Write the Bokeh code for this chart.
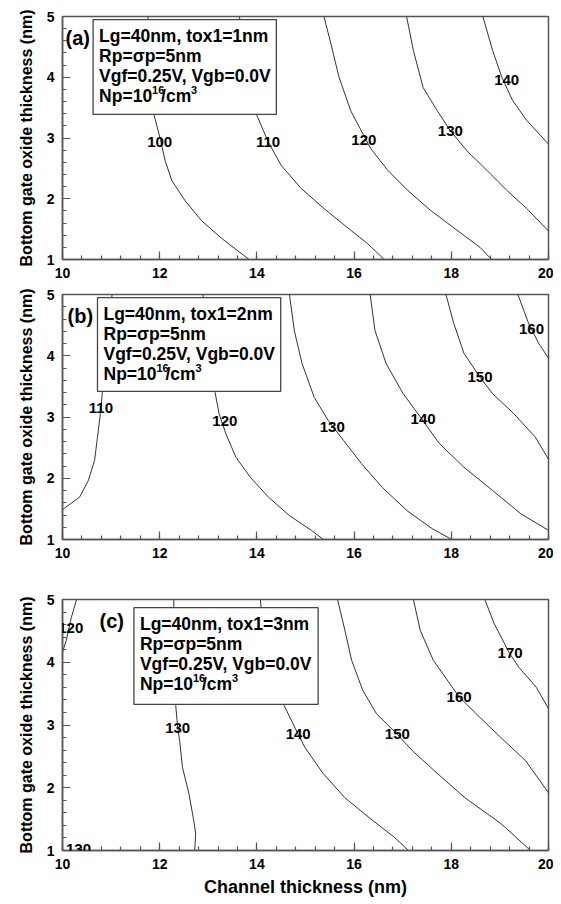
from bokeh.plotting import figure
from bokeh.models import Range1d, Label, LabelSet, ColumnDataSource, BoxAnnotation, SingleIntervalTicker
from bokeh.core.properties import value
from bokeh.layouts import column
from bokeh.embed import file_html
from bokeh.resources import INLINE

# ---------------- data ----------------
# Panel (a): tox1 = 1 nm
A100_x = [11.76, 11.80, 11.85, 11.88, 12.02, 12.11, 12.25, 12.52, 12.86, 13.27, 13.84]
A100_y = [5.0, 4.5, 3.9, 3.39, 2.96, 2.63, 2.30, 1.97, 1.64, 1.35, 1.0]
A110_x = [13.64, 13.75, 13.87, 13.99, 14.23, 14.50, 14.91, 15.38, 15.87, 16.28, 16.62]
A110_y = [5.0, 4.5, 3.9, 3.39, 2.94, 2.55, 2.17, 1.84, 1.52, 1.26, 1.0]
A120_x = [15.38, 15.52, 15.69, 15.93, 16.18, 16.34, 16.69, 17.10, 17.57, 18.12, 18.59, 18.83]
A120_y = [5.0, 4.56, 4.00, 3.45, 3.07, 2.83, 2.47, 2.14, 1.81, 1.48, 1.20, 1.0]
A130_x = [17.08, 17.22, 17.42, 17.71, 17.98, 18.32, 18.73, 19.14, 19.55, 20.0]
A130_y = [5.0, 4.44, 3.83, 3.45, 3.12, 2.79, 2.47, 2.14, 1.84, 1.47]
A140_x = [18.65, 18.85, 19.04, 19.26, 19.55, 20.0]
A140_y = [5.0, 4.44, 4.00, 3.62, 3.29, 2.9]
A_levels = [100, 110, 120, 130, 140]
A_label_x = [12.0, 14.23, 16.2, 17.98, 19.14]
A_label_y = [2.94, 2.94, 2.96, 3.11, 3.96]

# Panel (b): tox1 = 2 nm
B110_x = [10.0, 10.35, 10.53, 10.66, 10.72, 10.78, 10.82, 10.92, 11.02]
B110_y = [1.49, 1.69, 1.96, 2.29, 2.67, 3.06, 3.40, 4.2, 5.0]
B120_x = [12.89, 12.98, 13.07, 13.14, 13.22, 13.36, 13.57, 13.87, 14.24, 14.67, 15.12, 15.37]
B120_y = [5.0, 4.4, 3.9, 3.40, 3.06, 2.73, 2.34, 2.01, 1.69, 1.39, 1.15, 1.0]
B130_x = [14.67, 14.77, 14.93, 15.18, 15.47, 15.78, 16.15, 16.58, 17.09, 17.60, 18.01]
B130_y = [5.0, 4.41, 3.87, 3.32, 2.94, 2.62, 2.24, 1.85, 1.47, 1.18, 1.0]
B140_x = [16.33, 16.43, 16.66, 17.01, 17.40, 17.75, 18.26, 18.85, 19.43, 20.0]
B140_y = [5.0, 4.41, 3.87, 3.38, 2.96, 2.57, 2.18, 1.80, 1.42, 1.15]
B150_x = [17.89, 18.05, 18.26, 18.59, 18.85, 19.28, 19.73, 20.0]
B150_y = [5.0, 4.53, 4.04, 3.65, 3.38, 3.06, 2.67, 2.31]
B160_x = [19.37, 19.59, 19.80, 20.0]
B160_y = [5.0, 4.53, 4.2, 3.96]
B_levels = [110, 120, 130, 140, 150, 160]
B_label_x = [10.79, 13.34, 15.55, 17.42, 18.59, 19.65]
B_label_y = [3.15, 2.94, 2.84, 2.96, 3.65, 4.44]

# Panel (c): tox1 = 3 nm
C120_x = [10.29, 10.18, 10.08, 10.0]
C120_y = [5.0, 4.71, 4.35, 4.16]
C130_x = [12.29, 12.30, 12.32, 12.33, 12.37, 12.41, 12.47, 12.60, 12.70, 12.74, 12.72]
C130_y = [5.0, 4.4, 3.8, 3.31, 2.96, 2.75, 2.32, 1.91, 1.48, 1.27, 1.0]
C140_x = [14.07, 14.15, 14.32, 14.56, 14.85, 14.99, 15.36, 15.81, 16.38, 16.83, 17.12]
C140_y = [5.0, 4.4, 3.8, 3.31, 2.85, 2.64, 2.23, 1.84, 1.48, 1.21, 1.0]
C150_x = [15.66, 15.81, 15.95, 16.18, 16.46, 16.89, 17.20, 17.71, 18.28, 19.02, 19.63]
C150_y = [5.0, 4.51, 4.03, 3.55, 3.18, 2.85, 2.59, 2.23, 1.84, 1.43, 1.0]
C160_x = [17.22, 17.36, 17.63, 18.16, 18.51, 19.02, 19.53, 20.0]
C160_y = [5.0, 4.51, 4.03, 3.45, 3.18, 2.80, 2.43, 1.92]
C170_x = [18.69, 18.88, 19.20, 19.39, 19.75, 20.0]
C170_y = [5.0, 4.62, 4.14, 3.92, 3.60, 3.26]
C_levels = [120, 130, 130, 140, 150, 160, 170]
C_label_x = [10.17, 12.37, 10.33, 14.85, 16.89, 18.16, 19.21]
C_label_y = [4.55, 2.96, 1.03, 2.85, 2.85, 3.45, 4.14]

TOX1 = ["1nm", "2nm", "3nm"]

# ---------------- styling / layout ----------------
FONT = "Liberation Sans"
AXIS_COLOR = "#555555"
LINE_COLOR = "#333333"


def make_panel(height, borders, contours, lv, lx, ly, box, tag, tag_dx, tox, xlabel):
    bl, br, bt, bb = borders
    p = figure(width=553, height=height, x_range=Range1d(10, 20), y_range=Range1d(1, 5),
               output_backend="svg", toolbar_location=None,
               min_border_left=bl, min_border_right=br, min_border_top=bt, min_border_bottom=bb,
               background_fill_color="white", border_fill_color="white")
    p.grid.visible = False
    p.outline_line_color = AXIS_COLOR
    p.outline_line_width = 1.5
    p.outline_line_alpha = 1.0

    p.xaxis.ticker = SingleIntervalTicker(interval=2, num_minor_ticks=5)
    p.yaxis.ticker = SingleIntervalTicker(interval=1, num_minor_ticks=5)
    for ax in (p.xaxis, p.yaxis):
        ax.major_tick_in = 8
        ax.major_tick_out = 0
        ax.minor_tick_in = 4
        ax.minor_tick_out = 0
        ax.axis_line_color = AXIS_COLOR
        ax.axis_line_width = 1.5
        ax.major_tick_line_color = AXIS_COLOR
        ax.minor_tick_line_color = AXIS_COLOR
        ax.major_tick_line_width = 1.2
        ax.minor_tick_line_width = 1.2
        ax.major_label_text_font = FONT
        ax.major_label_text_font_size = "14px"
        ax.major_label_text_font_style = "bold"
        ax.major_label_text_color = "black"
        ax.major_label_standoff = 8
        ax.axis_label_text_font = FONT
        ax.axis_label_text_font_style = "bold"
        ax.axis_label_text_color = "black"
    p.yaxis.axis_label = "Bottom gate oxide thickness (nm)"
    p.yaxis.axis_label_text_font_size = "16px"
    p.yaxis.axis_label_standoff = 9
    if xlabel:
        p.xaxis.axis_label = xlabel
        p.xaxis.axis_label_text_font_size = "18px"
        p.xaxis.axis_label_standoff = 5

    for xs, ys in contours:
        p.line(xs, ys, line_color=LINE_COLOR, line_width=1)

    src = ColumnDataSource(dict(x=lx, y=ly, t=[str(v) for v in lv]))
    p.add_layout(LabelSet(x="x", y="y", text="t", source=src, text_align="center",
                          text_baseline="middle", text_font=value(FONT),
                          text_font_size=value("15px"),
                          text_font_style=value("bold"), text_color="black"))

    x0, x1, y0, y1 = box
    p.add_layout(BoxAnnotation(left=x0, right=x1, bottom=y0, top=y1, fill_color="white",
                               fill_alpha=1.0, line_color="#444444", line_width=1.3, line_alpha=1.0))

    lines = ["Lg=40nm, tox1=" + tox, "Rp=\u03c3p=5nm", "Vgf=0.25V, Vgb=0.0V"]
    fs = "17.5px"
    for i, t in enumerate(lines):
        p.add_layout(Label(x=x0, y=y1, x_offset=6, y_offset=-(16 + 20 * i), text=t,
                           text_baseline="middle", text_font=FONT, text_font_size=fs,
                           text_font_style="bold", text_color="black"))
    yo = -(16 + 60)
    for t, dx, dy, size in [("Np=10", 0, 0, fs), ("16", 53, 6, "11px"),
                            ("/cm", 62, 0, fs), ("3", 92, 6, "11px")]:
        p.add_layout(Label(x=x0, y=y1, x_offset=6 + dx, y_offset=yo + dy, text=t,
                           text_baseline="middle", text_font=FONT, text_font_size=size,
                           text_font_style="bold", text_color="black"))

    p.add_layout(Label(x=10, y=5, x_offset=tag_dx, y_offset=-21, text=tag,
                       text_baseline="middle", text_font=FONT, text_font_size="20px",
                       text_font_style="bold", text_color="black"))
    return p


pa = make_panel(286, (60, 4, 16, 27),
                [(A100_x, A100_y), (A110_x, A110_y), (A120_x, A120_y), (A130_x, A130_y), (A140_x, A140_y)],
                A_levels, A_label_x, A_label_y, (10.63, 14.40, 3.39, 4.95), "(a)", 3, TOX1[0], None)
pb = make_panel(305, (62, 3, 8, 52),
                [(B110_x, B110_y), (B120_x, B120_y), (B130_x, B130_y), (B140_x, B140_y),
                 (B150_x, B150_y), (B160_x, B160_y)],
                B_levels, B_label_x, B_label_y, (10.72, 14.49, 3.42, 4.95), "(b)", 5, TOX1[1], None)
pc = make_panel(313, (59, 5, 8, 54),
                [(C120_x, C120_y), (C130_x, C130_y), (C140_x, C140_y), (C150_x, C150_y),
                 (C160_x, C160_y), (C170_x, C170_y)],
                C_levels, C_label_x, C_label_y, (11.47, 15.26, 3.33, 4.87), "(c)", 37, TOX1[2],
                "Channel thickness (nm)")

layout = column(pa, pb, pc, spacing=0)
open("out.html", "w").write(file_html(layout, INLINE))
